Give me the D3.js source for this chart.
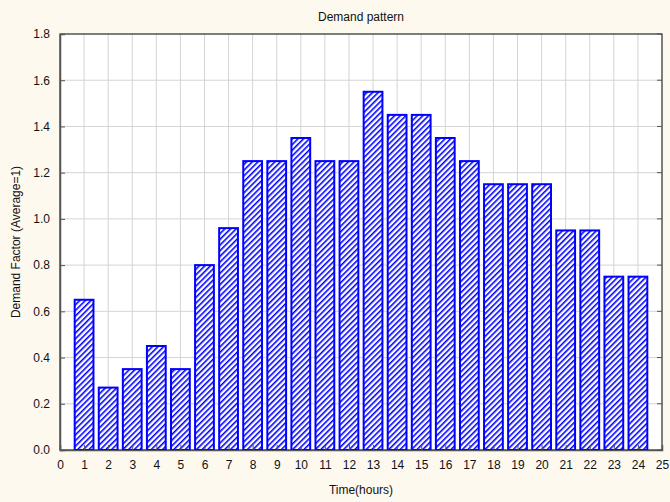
<!DOCTYPE html>
<html><head><meta charset="utf-8">
<script src="https://cdn.jsdelivr.net/npm/d3@7"></script>
<style>body{margin:0;background:#fdf9ef;} svg{display:block;}</style>
</head><body>
<svg id="c" width="670" height="502"></svg>
<script>
const hours = [1,2,3,4,5,6,7,8,9,10,11,12,13,14,15,16,17,18,19,20,21,22,23,24];
const demand = [0.65,0.27,0.35,0.45,0.35,0.80,0.96,1.25,1.25,1.35,1.25,1.25,1.55,1.45,1.45,1.35,1.25,1.15,1.15,1.15,0.95,0.95,0.75,0.75];
const xTicks = d3.range(0,26);
const yTicks = [0,0.2,0.4,0.6,0.8,1.0,1.2,1.4,1.6,1.8];
const title = "Demand pattern", xTitle = "Time(hours)", yTitle = "Demand Factor (Average=1)";

const svg = d3.select("#c");
svg.append("rect").attr("width",670).attr("height",502).attr("fill","#fdf9ef");
const L=60,R=662,T=34,B=450;
const x = d3.scaleLinear().domain([0,25]).range([L,R]);
const y = d3.scaleLinear().domain([0,1.8]).range([B,T]);

const defs = svg.append("defs");
const pat = defs.append("pattern").attr("id","hatch").attr("patternUnits","userSpaceOnUse")
  .attr("width",4).attr("height",4).attr("patternTransform","rotate(45)");
pat.append("rect").attr("width",4).attr("height",4).attr("fill","#fff");
pat.append("line").attr("x1",0.8).attr("y1",0).attr("x2",0.8).attr("y2",4).attr("stroke","#0000ff").attr("stroke-width",1.6);

svg.append("rect").attr("x",L).attr("y",T).attr("width",R-L).attr("height",B-T).attr("fill","#fff");
// grid
svg.append("g").selectAll("line").data(xTicks.slice(1,-1)).join("line")
  .attr("x1",d=>x(d)).attr("x2",d=>x(d)).attr("y1",T).attr("y2",B).attr("stroke","#d4d4d4").attr("stroke-width",1);
svg.append("g").selectAll("line").data(yTicks.slice(1,-1)).join("line")
  .attr("x1",L).attr("x2",R).attr("y1",d=>y(d)).attr("y2",d=>y(d)).attr("stroke","#d4d4d4").attr("stroke-width",1);

const bw = 0.78*(x(1)-x(0));
svg.append("g").selectAll("rect").data(hours).join("rect")
  .attr("x",(d)=>x(d)-bw/2).attr("width",bw)
  .attr("y",(d,i)=>y(demand[i])).attr("height",(d,i)=>y(0)-y(demand[i]))
  .attr("fill","url(#hatch)").attr("stroke","#0000ff").attr("stroke-width",2);

// frame
svg.append("rect").attr("x",L).attr("y",T).attr("width",R-L).attr("height",B-T).attr("fill","none").attr("stroke","#000").attr("stroke-width",1);

const ax = svg.append("g").attr("transform",`translate(0,${B})`)
  .call(d3.axisBottom(x).tickValues(xTicks).tickSize(-5).tickPadding(10).tickFormat(d3.format("d")));
const ay = svg.append("g").attr("transform",`translate(${L},0)`)
  .call(d3.axisLeft(y).tickValues(yTicks).tickSize(-5).tickPadding(10).tickFormat(d3.format(".1f")));
// right ticks
svg.append("g").selectAll("line").data(yTicks).join("line")
  .attr("x1",R).attr("x2",R-5).attr("y1",d=>y(d)).attr("y2",d=>y(d)).attr("stroke","#555");
[ax,ay].forEach(g=>{
  g.select(".domain").attr("stroke","#555").attr("stroke-width",1.5);
  g.selectAll(".tick line").attr("stroke","#555");
  g.selectAll("text").attr("font-family","Liberation Sans, Arial, sans-serif").attr("font-size",12).attr("fill","#111");
});

svg.append("text").attr("x",(L+R)/2).attr("y",21).attr("text-anchor","middle")
  .attr("font-family","Liberation Sans, Arial, sans-serif").attr("font-size",12).attr("fill","#111").text(title);
svg.append("text").attr("x",(L+R)/2).attr("y",494).attr("text-anchor","middle")
  .attr("font-family","Liberation Sans, Arial, sans-serif").attr("font-size",12).attr("fill","#111").text(xTitle);
svg.append("text").attr("transform",`translate(20,${(T+B)/2}) rotate(-90)`).attr("text-anchor","middle")
  .attr("font-family","Liberation Sans, Arial, sans-serif").attr("font-size",12).attr("fill","#111").text(yTitle);
</script>
</body></html>
